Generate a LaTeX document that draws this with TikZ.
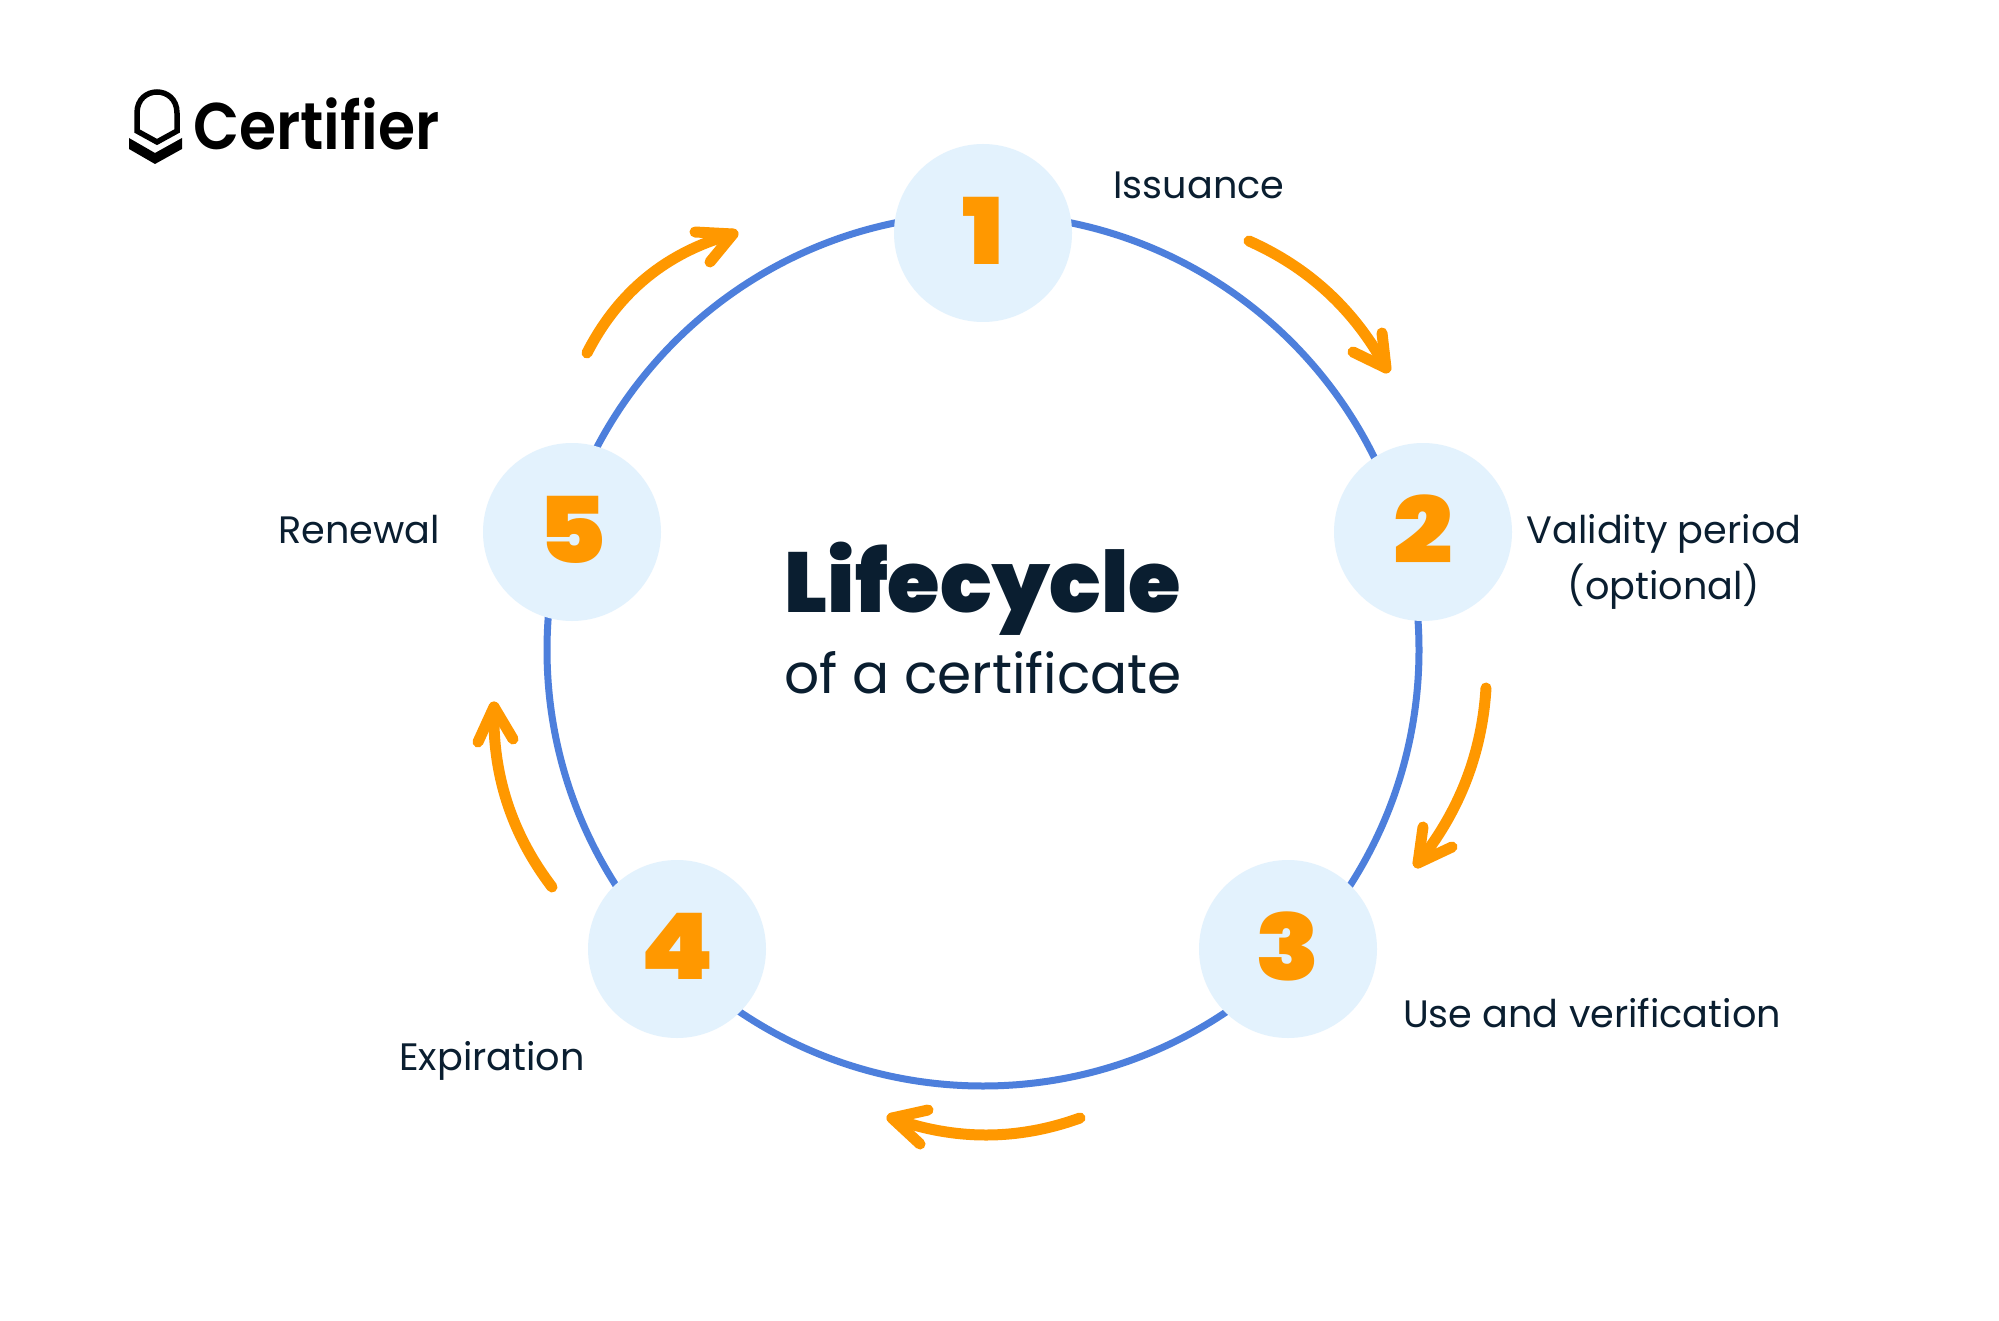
\documentclass[tikz,border=0pt]{standalone}
\usepackage{fontspec}
\usetikzlibrary{calc}
\setmainfont{Poppins}
\newfontfamily\heavyf{Poppins}[UprightFont=* Black]
\newfontfamily\digitf{Poppins}[UprightFont=* Black,FakeStretch=1.14]
\newfontfamily\semif{Poppins}[UprightFont=* SemiBold,FakeStretch=0.91]
\newfontfamily\labelf{Poppins}
\definecolor{inkc}{HTML}{0A1E30}
\definecolor{orangec}{HTML}{FF9800}
\definecolor{bluec}{HTML}{4D7FDC}
\definecolor{lightc}{HTML}{E3F2FD}
\tikzset{
  numnode/.style={circle,fill=lightc,minimum size=178pt,inner sep=0pt,text=orangec,font=\digitf\fontsize{92}{92}\selectfont},
  ringnode/.style={circle,draw=bluec,line width=7pt,minimum size=872pt,inner sep=0pt},
  steplabel/.style={anchor=base,text=inkc,font=\labelf\fontsize{38.2}{38.2}\selectfont},
  arrowline/.style={draw=orangec,line width=11pt,line cap=round,line join=round},
}
\begin{document}
\begin{tikzpicture}[x=1pt,y=-1pt]
\useasboundingbox (0,0) rectangle (1999,1321);
\fill[white] (0,0) rectangle (1999,1321);
% logo
\draw[black,line width=5.5pt,line join=miter] (137,131) -- (137,113) .. controls (137,85) and (177,85) .. (177,113) -- (177,131) -- (157,142) -- cycle;
\fill[black] (129,138) -- (155,153) -- (182,138) -- (182,149) -- (155,164) -- (129,149) -- cycle;
\node[anchor=base west,inner sep=0pt,text=black,font=\semif\fontsize{66}{66}\selectfont] (logo) at (193,150) {Certifier};
% ring and steps
\node[ringnode] (ring) at (983,650) {};
\node[numnode] (n1) at (983,233) {\raisebox{5pt}{1}};
\node[numnode] (n2) at (1423,532) {\raisebox{5pt}{2}};
\node[numnode] (n3) at (1288,949) {\raisebox{5pt}{3}};
\node[numnode] (n4) at (677,949) {\raisebox{5pt}{4}};
\node[numnode] (n5) at (572,532) {\raisebox{5pt}{5}};
% labels
\node[steplabel] (l1) at (1199,199) {Issuance};
\node[steplabel] (l2) at (1664,543) {Validity period};
\node[steplabel] (l2b) at (1664,599) {(optional)};
\node[steplabel] (l3) at (1592,1027) {Use and verification};
\node[steplabel] (l4) at (492,1070) {Expiration};
\node[steplabel] (l5) at (359,543) {Renewal};
% centre
\node[anchor=base,text=inkc,font=\heavyf\fontsize{85}{85}\selectfont] (t1) at (983,612) {Lifecycle};
\node[anchor=base,text=inkc,font=\labelf\fontsize{55}{55}\selectfont] (t2) at (983,693) {of a certificate};
% arrows
\coordinate (a1s) at (1249,241); \coordinate (a1c) at (1339,281); \coordinate (a1t) at (1386,368);
\coordinate (a1p) at (1382,333); \coordinate (a1q) at (1353,352);
\coordinate (a2s) at (1486,688); \coordinate (a2c) at (1480,786); \coordinate (a2t) at (1418,863);
\coordinate (a2p) at (1423,827); \coordinate (a2q) at (1452,847);
\coordinate (a3s) at (1080,1118); \coordinate (a3c) at (986,1152); \coordinate (a3t) at (892,1118);
\coordinate (a3p) at (928,1110); \coordinate (a3q) at (920,1144);
\coordinate (a4s) at (552,887); \coordinate (a4c) at (491,807); \coordinate (a4t) at (494,707);
\coordinate (a4p) at (478,742); \coordinate (a4q) at (513,739);
\coordinate (a5s) at (587,353); \coordinate (a5c) at (634,261); \coordinate (a5t) at (733,234);
\coordinate (a5p) at (695,232); \coordinate (a5q) at (710,262);
\foreach \a in {a1,a2,a3,a4,a5}{
  \draw[arrowline] (\a s) .. controls ($(\a s)!0.667!(\a c)$) and ($(\a t)!0.667!(\a c)$) .. (\a t);
  \draw[arrowline] (\a p) -- (\a t) -- (\a q);
}
\end{tikzpicture}
\end{document}
